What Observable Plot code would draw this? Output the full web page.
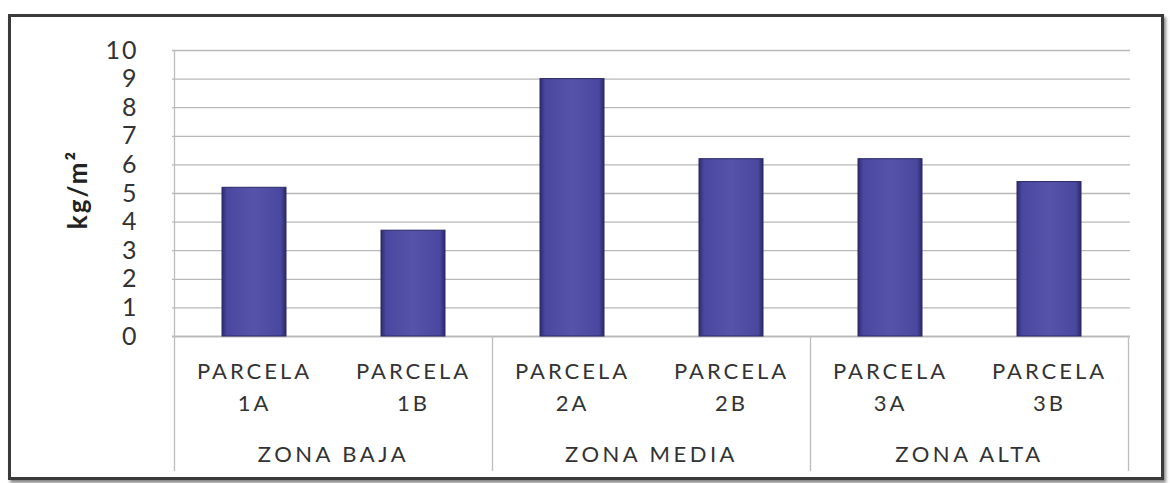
<!DOCTYPE html>
<html><head><meta charset="utf-8">
<script src="https://cdn.jsdelivr.net/npm/d3@7"></script>
<script src="https://cdn.jsdelivr.net/npm/@observablehq/plot@0.6"></script>
<style>
body{margin:0;background:#fff;}
#wrap{position:relative;width:1170px;height:483px;overflow:hidden;}
#wrap svg{position:absolute;left:0;top:0;}
#frame{position:absolute;left:8px;top:14px;width:1150px;height:460px;border:3px solid #3a3a3a;box-shadow:2px 3px 3px #888;pointer-events:none;}
g[aria-label="x-axis tick label"] text{letter-spacing:3px;}
g[aria-label="y-axis tick label"] text{letter-spacing:2px;}
.zona{letter-spacing:3.5px;}
.ylab text{letter-spacing:2px;}
</style></head><body><div id="wrap"><div id="frame"></div></div>
<script>
const parcelas = ["PARCELA 1A","PARCELA 1B","PARCELA 2A","PARCELA 2B","PARCELA 3A","PARCELA 3B"];
const zonaDeParcela = ["ZONA BAJA","ZONA BAJA","ZONA MEDIA","ZONA MEDIA","ZONA ALTA","ZONA ALTA"];
const zonas = ["ZONA BAJA","ZONA MEDIA","ZONA ALTA"];
const valores = [5.2, 3.7, 9.0, 6.2, 6.2, 5.4];
const yTicks = [0,1,2,3,4,5,6,7,8,9,10];
const yLabel = "kg/m²";

const data = parcelas.map((p,i)=>({parcela:p, zona:zonaDeParcela[i], valor:valores[i]}));
const zonaData = zonas.map(z=>({zona:z, parcelas:parcelas.filter((p,i)=>zonaDeParcela[i]===z)}));
const FONT = "Lato, 'Open Sans', sans-serif";

function gradientes(){
  const g = d3.create("svg:defs");
  g.html(`<linearGradient id="barGrad" x1="0" x2="1" y1="0" y2="0">
    <stop offset="0" stop-color="#2f2c6c"/>
    <stop offset="0.08" stop-color="#4a47a0"/>
    <stop offset="0.5" stop-color="#5653aa"/>
    <stop offset="0.92" stop-color="#4a47a0"/>
    <stop offset="1" stop-color="#2c2966"/>
  </linearGradient>`);
  return g.node();
}

function tabla(index, scales, values, dims){
  const x = scales.x, y = scales.y;
  const step = x.step(), bw = x.bandwidth(), half = (step-bw)/2;
  const y0 = y(0), yTop = y(10), yb = dims.height - 12;
  const g = d3.create("svg:g");
  const bounds = [x(parcelas[0]) - half];
  zonaData.forEach(z=>bounds.push(x(z.parcelas[z.parcelas.length-1]) + bw + half));
  bounds.forEach((b,i)=>{
    g.append("line").attr("x1",b).attr("x2",b)
      .attr("y1", i===0 ? yTop : y0).attr("y2", yb)
      .attr("stroke","#bdbdbd").attr("stroke-width",1.3);
  });
  zonaData.forEach(z=>{
    const a = x(z.parcelas[0]) - half, c = x(z.parcelas[z.parcelas.length-1]) + bw + half;
    g.append("text").attr("class","zona").attr("x",(a+c)/2).attr("y", yb - 9)
      .attr("text-anchor","middle").attr("font-family",FONT).attr("font-size",22)
      .attr("fill","#333").text(z.zona);
  });
  return g.node();
}

const svg = Plot.plot({
  width:1170, height:483,
  marginLeft:172, marginRight:40, marginTop:50, marginBottom:147,
  style:{fontFamily:FONT, color:"#333", background:"transparent"},
  x:{domain:parcelas, paddingInner:0.6, paddingOuter:0.3, label:null},
  y:{domain:[0,10], label:null},
  marks:[
    gradientes,
    Plot.gridY(yTicks, {stroke:"#b8b8b8", strokeOpacity:1, strokeWidth:1.3}),
    Plot.ruleY([0], {stroke:"#b8b8b8", strokeWidth:1.3}),
    Plot.barY(data, {x:"parcela", y:"valor", fill:"url(#barGrad)", stroke:"#2b2866", strokeWidth:1}),
    Plot.axisY({ticks:yTicks, tickSize:0, tickPadding:34, fontSize:25, label:null}),
    Plot.axisX({tickSize:0, tickPadding:20, fontSize:22, lineHeight:1.45, tickFormat:d=>d.replace(" ","\n"), label:null}),
    Plot.text([yLabel], {frameAnchor:"left", textAnchor:"middle", rotate:-90, dx:-94, dy:-4, fontSize:26, fontWeight:"bold", fill:"#222", text:d=>d, className:"ylab"}),
    tabla
  ]
});
document.getElementById("wrap").prepend(svg);
</script></body></html>
